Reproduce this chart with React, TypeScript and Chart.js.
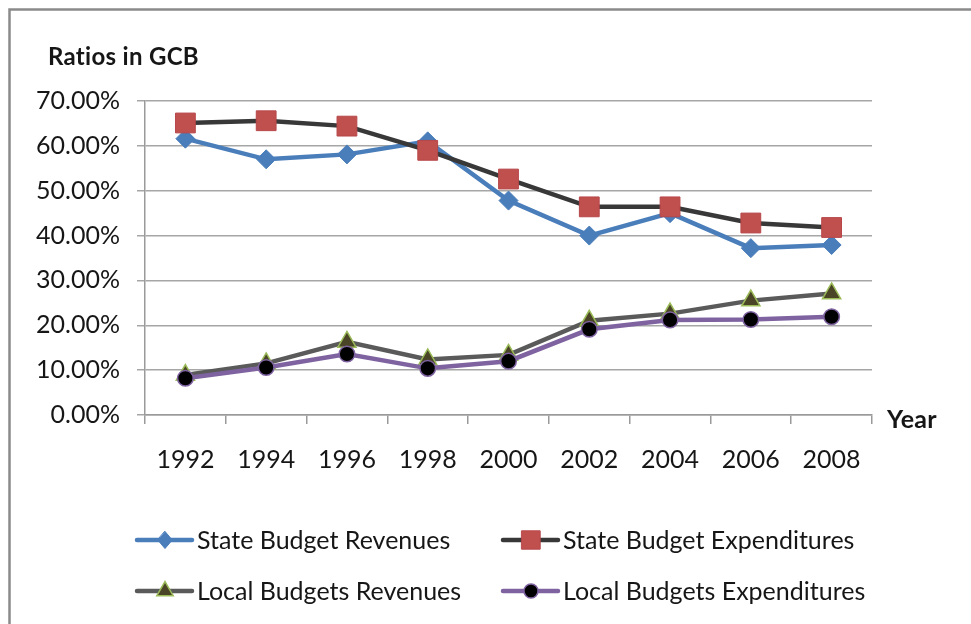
import React, { useEffect, useRef } from 'react';
import { Chart, registerables } from 'chart.js';

Chart.register(...registerables);

const years = ['1992', '1994', '1996', '1998', '2000', '2002', '2004', '2006', '2008'];
const stateRevenues = [61.6, 57.0, 58.1, 61.0, 47.8, 40.0, 45.0, 37.2, 37.9];
const stateExpenditures = [65.1, 65.6, 64.4, 59.0, 52.6, 46.4, 46.4, 42.8, 41.8];
const localRevenues = [8.9, 11.5, 16.3, 12.4, 13.4, 21.0, 22.6, 25.5, 27.1];
const localExpenditures = [8.2, 10.6, 13.6, 10.4, 12.0, 19.1, 21.2, 21.3, 21.9];
const yMin = 0;
const yMax = 70;
const yStep = 10;
const yTitle = 'Ratios in GCB';
const xTitle = 'Year';
const seriesNames = [
  'State Budget Revenues',
  'State Budget Expenditures',
  'Local Budgets Revenues',
  'Local Budgets Expenditures',
];

const FONT = 'Lato, "Open Sans", sans-serif';
const TEXT = '#161616';

type Mk = { shape: string; fill: string; stroke: string; bw: number; r: number; line: string };
const styles: Mk[] = [
  { shape: 'diamond', fill: '#4A7EBB', stroke: '#4A7EBB', bw: 1, r: 9.5, line: '#4A7EBB' },
  { shape: 'square', fill: '#C0504D', stroke: '#B7474A', bw: 1, r: 14, line: '#383838' },
  { shape: 'triangle', fill: '#4A4526', stroke: '#9BBB59', bw: 1.5, r: 10.5, line: '#5a5a5a' },
  { shape: 'circle', fill: '#000000', stroke: '#7F63A1', bw: 1.5, r: 7.8, line: '#7F63A1' },
];

function drawMarker(ctx: CanvasRenderingContext2D, s: Mk, x: number, y: number) {
  ctx.save();
  ctx.fillStyle = s.fill;
  ctx.strokeStyle = s.stroke;
  ctx.lineWidth = s.bw;
  ctx.beginPath();
  if (s.shape === 'diamond') {
    ctx.moveTo(x, y - s.r);
    ctx.lineTo(x + s.r * 0.85, y);
    ctx.lineTo(x, y + s.r);
    ctx.lineTo(x - s.r * 0.85, y);
    ctx.closePath();
  } else if (s.shape === 'square') {
    const h = s.r * Math.SQRT1_2;
    ctx.rect(x - h, y - h, 2 * h, 2 * h);
  } else if (s.shape === 'triangle') {
    const c = Math.cos(Math.PI / 6) * s.r;
    ctx.moveTo(x, y - s.r);
    ctx.lineTo(x + c, y + s.r / 2);
    ctx.lineTo(x - c, y + s.r / 2);
    ctx.closePath();
  } else {
    ctx.arc(x, y, s.r, 0, Math.PI * 2);
  }
  ctx.fill();
  ctx.stroke();
  ctx.restore();
}

const pointStyleOf: Record<string, any> = {
  diamond: 'rectRot',
  square: 'rect',
  triangle: 'triangle',
  circle: 'circle',
};

const overlayPlugin = {
  id: 'overlay',
  beforeDraw(chart: any) {
    const ctx = chart.ctx as CanvasRenderingContext2D;
    ctx.save();
    ctx.fillStyle = '#ffffff';
    ctx.fillRect(0, 0, chart.width, chart.height);
    ctx.strokeStyle = '#8a8a8a';
    ctx.lineWidth = 2.5;
    ctx.beginPath();
    ctx.moveTo(9.5, chart.height + 5);
    ctx.lineTo(9.5, 9.5);
    ctx.lineTo(chart.width + 5, 9.5);
    ctx.stroke();
    ctx.restore();
  },
  afterDraw(chart: any) {
    const ctx = chart.ctx as any;
    const area = chart.chartArea;
    ctx.save();
    ctx.fillStyle = TEXT;
    ctx.font = `bold 24px ${FONT}`;
    ctx.letterSpacing = '0.3px';
    ctx.textBaseline = 'middle';
    ctx.textAlign = 'left';
    ctx.fillText(yTitle, 48, 57);
    ctx.font = `bold 25px ${FONT}`;
    ctx.fillText(xTitle, area.right + 15, area.bottom + 5);

    // legend
    const cols = [137, 503];
    const rows = [540, 591];
    ctx.letterSpacing = '0px';
    ctx.font = `25px ${FONT}`;
    seriesNames.forEach((name, i) => {
      const s = styles[i];
      const x0 = cols[i % 2];
      const y0 = rows[Math.floor(i / 2)];
      ctx.strokeStyle = s.line;
      ctx.lineWidth = 4.5;
      ctx.lineCap = 'round';
      ctx.beginPath();
      ctx.moveTo(x0, y0);
      ctx.lineTo(x0 + 55, y0);
      ctx.stroke();
      drawMarker(ctx, { ...s, r: s.shape === 'square' ? 13 : s.r * 0.9 }, x0 + 28, y0);
      ctx.fillStyle = TEXT;
      ctx.fillText(name, x0 + 60, y0 + 1);
    });
    ctx.restore();
  },
};

export default function App() {
  const ref = useRef<HTMLCanvasElement | null>(null);
  useEffect(() => {
    document.body.style.margin = '0';
    const canvas = ref.current!;
    const data = [stateRevenues, stateExpenditures, localRevenues, localExpenditures];
    const chart = new Chart(canvas, {
      type: 'line',
      data: {
        labels: years,
        datasets: data.map((vals, i) => ({
          label: seriesNames[i],
          data: vals,
          borderColor: styles[i].line,
          borderWidth: 4.5,
          backgroundColor: styles[i].fill,
          pointBackgroundColor: styles[i].fill,
          pointBorderColor: styles[i].stroke,
          pointBorderWidth: styles[i].bw,
          pointStyle: pointStyleOf[styles[i].shape],
          pointRadius: styles[i].r,
          tension: 0,
          fill: false,
          order: 4 - i,
        })),
      },
      options: {
        responsive: false,
        animation: false,
        devicePixelRatio: 1,
        layout: { padding: { left: 0, right: 99, top: 101, bottom: 149 } },
        plugins: {
          legend: { display: false },
          tooltip: { enabled: false },
        },
        scales: {
          x: {
            type: 'category',
            offset: true,
            grid: {
              offset: true,
              drawOnChartArea: false,
              drawTicks: true,
              tickLength: 9,
              color: '#9a9a9a',
              lineWidth: 1.5,
            },
            border: { color: '#9a9a9a', width: 1.5 },
            ticks: {
              color: TEXT,
              font: { family: FONT, size: 25 },
              padding: 21,
              maxRotation: 0,
              autoSkip: false,
            },
            afterFit: (s: any) => {
              s.height = 60;
            },
          },
          y: {
            min: yMin,
            max: yMax,
            ticks: {
              stepSize: yStep,
              color: TEXT,
              font: { family: FONT, size: 25 },
              padding: 17,
              callback: (v: any) => Number(v).toFixed(2) + '%',
            },
            grid: {
              color: '#a6a6a6',
              lineWidth: 1.5,
              drawTicks: true,
              tickLength: 8,
            },
            border: { color: '#9a9a9a', width: 1.5 },
            afterFit: (s: any) => {
              s.width = 145;
            },
          },
        },
      },
      plugins: [overlayPlugin],
    });
    return () => chart.destroy();
  }, []);
  return <canvas ref={ref} width={971} height={624} style={{ display: 'block' }} />;
}
